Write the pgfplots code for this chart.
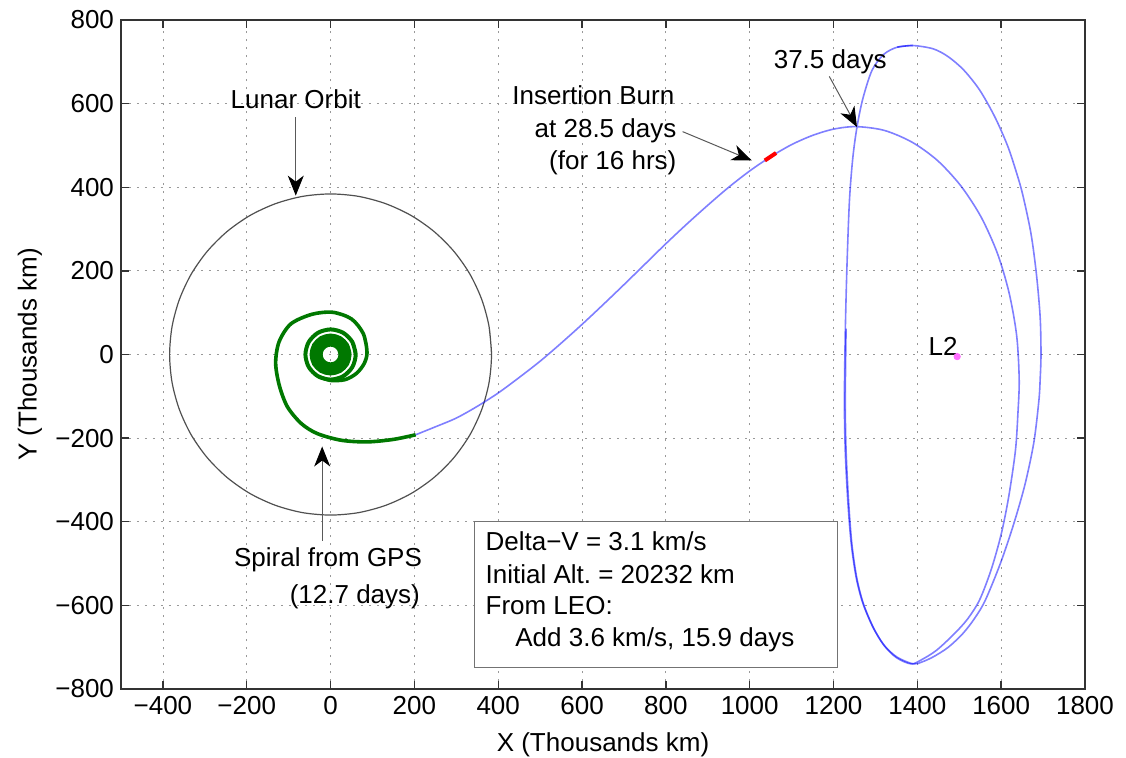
\documentclass[border=0pt]{standalone}
\usepackage{pgfplots}
\pgfplotsset{compat=1.18}
\usepackage{fontspec}
\setmainfont{Liberation Sans}
\usetikzlibrary{arrows.meta}
\definecolor{lunar}{RGB}{80,80,80}
\definecolor{spiral}{RGB}{0,120,0}
\definecolor{ltwo}{RGB}{255,110,255}
\begin{document}
\begin{tikzpicture}[font=\fontsize{13}{16}\selectfont,
  ann/.style={black!65, line width=0.5pt, -{Stealth[length=10pt,width=8pt,inset=3pt,color=black]}}]
\useasboundingbox (-60.5pt,-34pt) rectangle (502.5pt,344.5pt);
\begin{axis}[name=ax, at={(0,0)}, anchor=south west,
 scale only axis, width=482pt, height=334.5pt,
 xmin=-500, xmax=1800, ymin=-800, ymax=800,
 xtick={-400,-200,...,1800},
 xticklabels={−400,−200,0,200,400,600,800,1000,1200,1400,1600,1800},
 ytick={-800,-600,...,800},
 yticklabels={−800,−600,−400,−200,0,200,400,600,800},
 tick align=inside, major tick length=4pt,
 grid=major, grid style={black!40, dash pattern=on 0.8pt off 3.2pt},
 axis line style={black!80, line width=0.7pt},
 every tick/.style={black!80, line width=0.7pt},
 tick label style={font=\fontsize{13}{16}\selectfont},
 label style={font=\fontsize{13}{16}\selectfont},
 xlabel={X (Thousands km)}, ylabel={Y (Thousands km)},
 xlabel style={at={(axis description cs:0.5,-0.0837)}, anchor=center, inner sep=0pt},
 ylabel style={at={(axis description cs:-0.0944,0.5)}, anchor=center, inner sep=0pt},
 clip=false,
]
% Lunar orbit
\addplot[lunar, line width=0.6pt, smooth] coordinates {
(384,0) (378.2,66.7) (360.8,131.3) (332.6,192) (294.2,246.8) (246.8,294.2) (192,332.6) (131.3,360.8) (66.7,378.2)
(0,384) (-66.7,378.2) (-131.3,360.8) (-192,332.6) (-246.8,294.2) (-294.2,246.8) (-332.6,192) (-360.8,131.3) (-378.2,66.7)
(-384,0) (-378.2,-66.7) (-360.8,-131.3) (-332.6,-192) (-294.2,-246.8) (-246.8,-294.2) (-192,-332.6) (-131.3,-360.8) (-66.7,-378.2)
(0,-384) (66.7,-378.2) (131.3,-360.8) (192,-332.6) (246.8,-294.2) (294.2,-246.8) (332.6,-192) (360.8,-131.3) (378.2,-66.7)
(384,0) (378.2,66.7)};
% Spiral from GPS: dense inner turns
\addplot[spiral, line width=6.5pt, smooth] coordinates {
(34.5,0) (29.9,17.3) (17.3,29.9) (0,34.5) (-17.3,29.9) (-29.9,17.3) (-34.5,0) (-29.9,-17.3) (-17.3,-29.9) (0,-34.5) (17.3,-29.9) (29.9,-17.3) (34.5,0) (29.9,17.3)};
\addplot[spiral, line width=2pt, smooth] coordinates {
(60,0) (52,30) (30,52) (0,60) (-30,52) (-52,30) (-60,0) (-52,-30) (-30,-52) (0,-60) (30,-52) (52,-30) (60,0) (52,30)};
% Spiral outer turn
\addplot[spiral, line width=1.8pt, smooth] coordinates {
(-30,-52) (0,-62) (35,-60) (62,-45) (80,-22) (87,5) (78,50) (50,85) (5,101) (-45,96) (-95,73) (-123,30) (-131,-21)
(-122,-75) (-103,-125) (-70,-165) (-32,-189) (25,-205) (87,-209) (150,-203) (203,-192)};
% Transfer trajectory, first pass
\addplot[blue, draw opacity=0.5, line width=0.8pt, smooth] coordinates {
(203,-192) (250,-173) (300,-152) (350,-124) (400,-92) (450,-55) (500,-16) (550,27) (600,72) (650,119) (700,167)
(750,216) (800,265) (850,312) (900,357) (950,400) (1000,439) (1050,473) (1100,502) (1150,524) (1200,539) (1254,545)
(1321,536) (1387,508) (1448,464) (1504,403) (1552,329) (1591,242) (1619,147) (1637,45) (1643,-60) (1640,-140)
(1634,-230) (1618,-340) (1600,-430) (1576,-515) (1548,-588) (1518,-635)
(1484,-672) (1445,-708) (1410,-730) (1385,-740) (1350,-725) (1320,-695) (1294,-652) (1270,-595) (1254,-533)
(1242,-450) (1234,-349) (1228,-230) (1226,-110) (1228,50) (1232,209) (1238,368) (1246,470) (1256,544) (1270,612)
(1292,680) (1320,718) (1352,735) (1389,739)};
% second pass
\addplot[blue, draw opacity=0.5, line width=0.8pt, smooth] coordinates {
(1352,735) (1389,739) (1438,731) (1474,712) (1511,680) (1549,632) (1585,568) (1615,500) (1635,440) (1651,384)
(1671,290) (1684,193) (1693,90) (1695,0) (1693,-60) (1690,-110) (1678,-210) (1657,-310) (1630,-405) (1598,-500)
(1562,-588) (1536,-632) (1508,-668) (1474,-700) (1440,-722) (1412,-735) (1390,-740) (1352,-724) (1322,-697)
(1296,-655) (1272,-598) (1256,-537) (1244,-455) (1236,-352) (1230,-230) (1228,-110) (1230,62)};
% insertion burn
\addplot[red, line width=2pt] coordinates {(1036,464) (1063,482)};
% L2 point
\addplot[only marks, mark=*, mark size=1.6pt, color=ltwo] coordinates {(1495,-5)};

% annotations
\node[anchor=center] at (axis cs:-83,610) {Lunar Orbit};
\draw[ann] (axis cs:-83,567) -- (axis cs:-83,380);
\node[anchor=base east, inner sep=0pt] at (axis cs:219,-507) {Spiral from GPS};
\node[anchor=base east, inner sep=0pt] at (axis cs:214,-596) {(12.7 days)};
\draw[ann] (axis cs:-20,-445) -- (axis cs:-20,-220);
\node[anchor=base east, inner sep=0pt] at (axis cs:821,598) {Insertion Burn};
\node[anchor=base east, inner sep=0pt] at (axis cs:826,519) {at 28.5 days};
\node[anchor=base east, inner sep=0pt] at (axis cs:826,443) {(for 16 hrs)};
\draw[ann] (axis cs:840,533) -- (axis cs:1005,464);
\node[anchor=base, inner sep=0pt] at (axis cs:1192,684) {37.5 days};
\draw[ann] (axis cs:1190,665) -- (axis cs:1256,544);
\node[anchor=base east, inner sep=0pt] at (axis cs:1497,-3) {L2};

\draw[black!55, line width=0.6pt, fill=white] (axis cs:343,-400) rectangle (axis cs:1210,-749);
\node[anchor=base west, inner sep=0pt] at (axis cs:369,-469) {Delta−V = 3.1 km/s};
\node[anchor=base west, inner sep=0pt] at (axis cs:369,-548) {Initial Alt.\ = 20232 km};
\node[anchor=base west, inner sep=0pt] at (axis cs:369,-622) {From LEO:};
\node[anchor=base west, inner sep=0pt] at (axis cs:440,-698) {Add 3.6 km/s, 15.9 days};
\end{axis}
\end{tikzpicture}
\end{document}
